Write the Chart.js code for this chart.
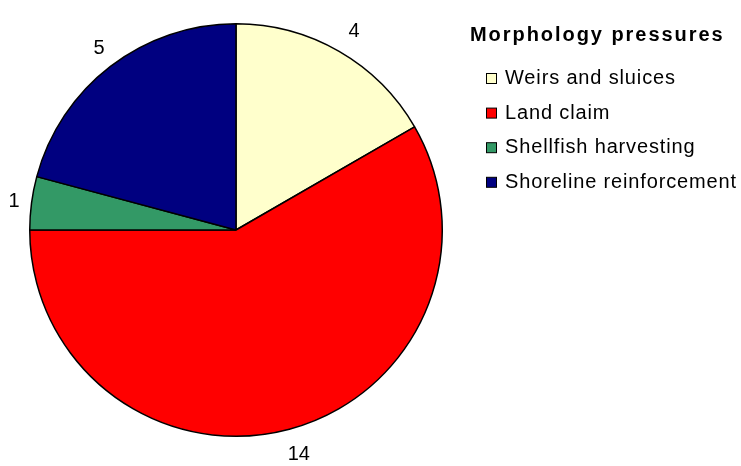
<!DOCTYPE html>
<html>
<head>
<meta charset="utf-8">
<script src="https://cdn.jsdelivr.net/npm/chart.js@4.4.0/dist/chart.umd.min.js"></script>
<style>
  html, body { margin: 0; padding: 0; background: #fff; }
  #wrap { position: relative; width: 741px; height: 466px; }
</style>
</head>
<body>
<div id="wrap"><canvas id="pie" width="741" height="466"></canvas></div>
<script>
// chart data
const legendTitle = 'Morphology pressures';
const categories = ['Weirs and sluices', 'Land claim', 'Shellfish harvesting', 'Shoreline reinforcement'];
const counts = [4, 14, 1, 5];
const sliceColors = ['#FFFFCC', '#FF0000', '#339966', '#000080'];

const FONT = '"Liberation Sans", Arial, sans-serif';

// value labels just outside each slice
const outsideLabels = {
  id: 'outsideLabels',
  afterDatasetsDraw(chart) {
    const ctx = chart.ctx;
    const meta = chart.getDatasetMeta(0);
    ctx.save();
    ctx.font = '20px ' + FONT;
    ctx.fillStyle = '#000';
    ctx.textAlign = 'center';
    ctx.textBaseline = 'middle';
    meta.data.forEach((arc, i) => {
      const p = arc.getProps(['x', 'y', 'startAngle', 'endAngle', 'outerRadius']);
      const mid = (p.startAngle + p.endAngle) / 2;
      const txt = String(counts[i]);
      const w = ctx.measureText(txt).width;
      const ext = Math.abs(Math.cos(mid)) * w / 2 + Math.abs(Math.sin(mid)) * 8;
      const r = p.outerRadius + 14 + ext;
      ctx.fillText(txt, p.x + Math.cos(mid) * r + 3, p.y + Math.sin(mid) * r + 1);
    });
    ctx.restore();
  }
};

// legend on the right, drawn like the original
const sideLegend = {
  id: 'sideLegend',
  afterDraw(chart) {
    const ctx = chart.ctx;
    ctx.save();
    ctx.fillStyle = '#000';
    ctx.textAlign = 'left';
    ctx.textBaseline = 'alphabetic';
    ctx.font = 'bold 20px ' + FONT;
    ctx.letterSpacing = '1.95px';
    ctx.fillText(legendTitle, 470, 41);
    ctx.font = '20px ' + FONT;
    ctx.letterSpacing = '0.85px';
    categories.forEach((name, i) => {
      const base = 84 + i * 34.6;
      ctx.fillStyle = sliceColors[i];
      ctx.fillRect(486.5, base - 10.5, 10, 10);
      ctx.strokeStyle = '#000';
      ctx.lineWidth = 1;
      ctx.strokeRect(486.5, base - 10.5, 10, 10);
      ctx.fillStyle = '#000';
      ctx.fillText(name, 505, base);
    });
    ctx.restore();
  }
};

new Chart(document.getElementById('pie'), {
  type: 'pie',
  data: {
    labels: categories,
    datasets: [{
      data: counts,
      backgroundColor: sliceColors,
      borderColor: '#000',
      borderWidth: 1.5
    }]
  },
  options: {
    responsive: false,
    animation: false,
    layout: { padding: { left: 29, top: 23, right: 298, bottom: 29 } },
    plugins: {
      legend: { display: false },
      tooltip: { enabled: false }
    }
  },
  plugins: [outsideLabels, sideLegend]
});
</script>
</body>
</html>
